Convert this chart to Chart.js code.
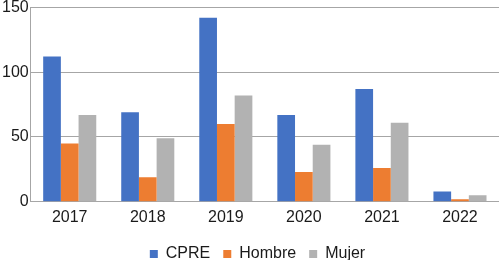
<!DOCTYPE html>
<html>
<head>
<meta charset="utf-8">
<script src="https://cdn.jsdelivr.net/npm/chart.js@4"></script>
<style>
  html, body { margin: 0; padding: 0; background: #fff; }
  #wrap { width: 499px; height: 260px; }
</style>
</head>
<body>
<div id="wrap"><canvas id="chart-cpre"></canvas></div>
<script>
const years = ["2017", "2018", "2019", "2020", "2021", "2022"];
const cpre = [112, 69, 142, 67, 87, 8];
const hombre = [45, 19, 60, 23, 26, 2];
const mujer = [67, 49, 82, 44, 61, 5];
const yTicks = [0, 50, 100, 150];

const gridColor = "#a6a6a6";
const textColor = "#1a1a1a";

const bar = (label, data, color) => ({
    label: label,
    data: data,
    backgroundColor: color,
    borderWidth: 0,
    categoryPercentage: 0.68,
    barPercentage: 1.0,
});

// nudge the legend a bit to the right, like the original
const legendShift = {
    id: "legendShift",
    afterLayout: (chart) => {
        chart.legend.left += 8;
        chart.legend.right += 8;
    },
};

const chartCpre = new Chart(document.getElementById("chart-cpre"), {
    type: "bar",
    data: {
        labels: years,
        datasets: [
            bar("CPRE", cpre, "#4472c4"),
            bar("Hombre", hombre, "#ed7d31"),
            bar("Mujer", mujer, "#b2b2b2"),
        ],
    },
    plugins: [legendShift],
    options: {
        responsive: true,
        maintainAspectRatio: false,
        animation: false,
        layout: { padding: { left: 0, right: 0, top: 0, bottom: -12 } },
        plugins: {
            tooltip: { enabled: false },
            legend: {
                position: "bottom",
                labels: {
                    color: textColor,
                    font: { family: "Liberation Sans", size: 16 },
                    boxWidth: 8,
                    boxHeight: 8,
                    padding: 13,
                },
            },
        },
        scales: {
            x: {
                grid: { display: false, drawTicks: false },
                border: { display: true, color: gridColor, width: 1 },
                ticks: {
                    color: textColor,
                    font: { family: "Liberation Sans", size: 16 },
                    padding: 6,
                },
            },
            y: {
                min: 0,
                max: 150,
                afterBuildTicks: (axis) => {
                    axis.ticks = yTicks.map((v) => ({ value: v }));
                },
                grid: { color: gridColor, drawTicks: false },
                border: { display: true, color: gridColor, width: 1 },
                ticks: {
                    color: textColor,
                    font: { family: "Liberation Sans", size: 16, lineHeight: 0.66 },
                    padding: 2,
                },
            },
        },
    },
});
</script>
</body>
</html>
